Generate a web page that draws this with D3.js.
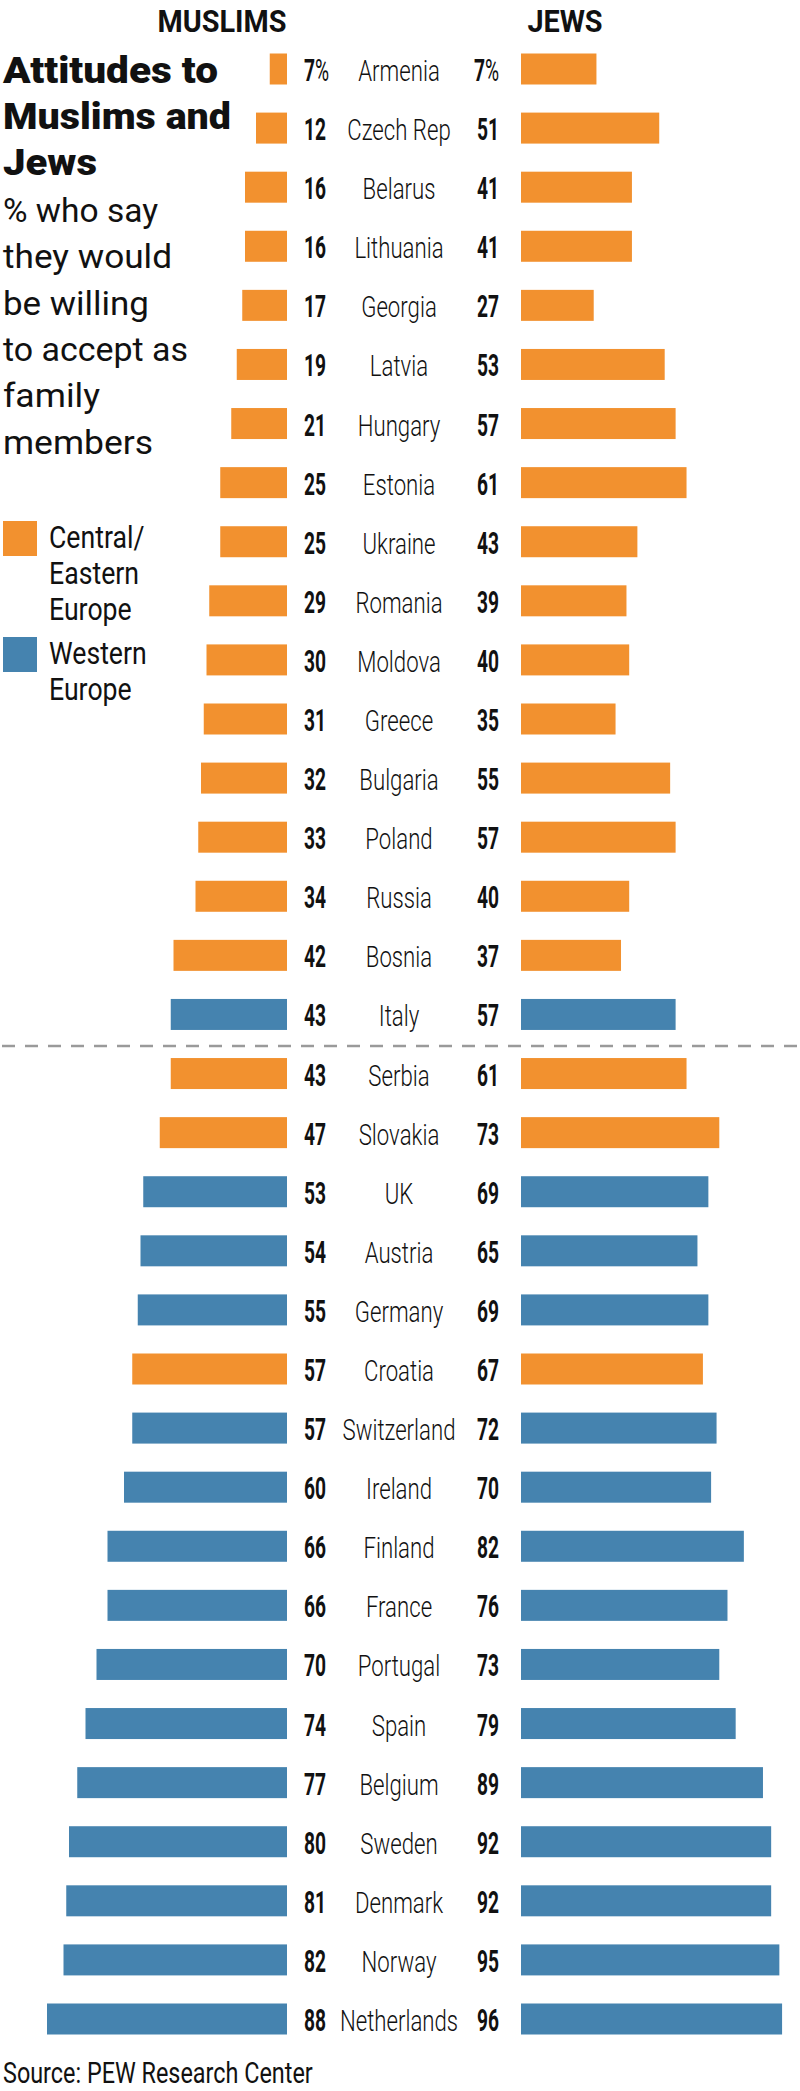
<!DOCTYPE html>
<html>
<head>
<meta charset="utf-8">
<script src="https://cdn.jsdelivr.net/npm/d3@7/dist/d3.min.js"></script>
<style>
  html, body { margin: 0; padding: 0; background: #fff; }
  svg { display: block; }
  text { font-family: Roboto, "Noto Sans", sans-serif; fill: #111; }
</style>
</head>
<body>
<svg id="chart" width="800" height="2091"></svg>
<script>
// ---- data ----
const countries = ["Armenia","Czech Rep","Belarus","Lithuania","Georgia","Latvia","Hungary","Estonia","Ukraine","Romania","Moldova","Greece","Bulgaria","Poland","Russia","Bosnia","Italy","Serbia","Slovakia","UK","Austria","Germany","Croatia","Switzerland","Ireland","Finland","France","Portugal","Spain","Belgium","Sweden","Denmark","Norway","Netherlands"];
const muslims = [7,12,16,16,17,19,21,25,25,29,30,31,32,33,34,42,43,43,47,53,54,55,57,57,60,66,66,70,74,77,80,81,82,88];
const jews = [7,51,41,41,27,53,57,61,43,39,40,35,55,57,40,37,57,61,73,69,65,69,67,72,70,82,76,73,79,89,92,92,95,96];
const region = ["C","C","C","C","C","C","C","C","C","C","C","C","C","C","C","C","W","C","C","W","W","W","C","W","W","W","W","W","W","W","W","W","W","W"];
// the Armenia bar for Jews is drawn longer than its 7% label in the original graphic
const jewsBarAsDrawn = { "Armenia": 28 };
const regionLabels = { C: ["Central/", "Eastern", "Europe"], W: ["Western", "Europe"] };
const titleLines = ["Attitudes to", "Muslims and", "Jews"];
const subtitleLines = ["% who say", "they would", "be willing", "to accept as", "family", "members"];
const headers = ["MUSLIMS", "JEWS"];
const sourceText = "Source: PEW Research Center";
const splitAfter = "Italy";

// ---- setup ----
const svg = d3.select("#chart");
const color = d3.scaleOrdinal().domain(["C","W"]).range(["#F2912F","#4583AF"]);
const rows = countries.map((c, i) => ({
  country: c, m: muslims[i], j: jews[i],
  jBar: jewsBarAsDrawn[c] !== undefined ? jewsBarAsDrawn[c] : jews[i],
  region: region[i], first: i === 0
}));

const y = d3.scalePoint().domain(countries).range([69, 2019]);
const barH = 31;
const xM = d3.scaleLinear().domain([0, 100]).range([289, 14]);
const mEdge = 287;
const xJ = d3.scaleLinear().domain([0, 100]).range([520, 793]);
const jEdge = 521;

function stxt(g, x, yy, sx, str) {
  return g.append("text")
    .attr("transform", `translate(${x},${yy}) scale(${sx},1)`)
    .text(str);
}

// ---- bars ----
svg.append("g").selectAll("rect.m").data(rows).join("rect")
  .attr("x", d => xM(d.m)).attr("width", d => mEdge - xM(d.m))
  .attr("y", d => y(d.country) - barH / 2).attr("height", barH)
  .attr("fill", d => color(d.region));

svg.append("g").selectAll("rect.j").data(rows).join("rect")
  .attr("x", jEdge).attr("width", d => xJ(d.jBar) - jEdge)
  .attr("y", d => y(d.country) - barH / 2).attr("height", barH)
  .attr("fill", d => color(d.region));

// ---- row labels ----
const lab = svg.append("g");
rows.forEach(d => {
  const by = y(d.country) + 12;
  const tm = lab.append("text")
    .attr("transform", `translate(304,${by}) scale(0.6,1)`)
    .attr("font-size", 32).attr("font-weight", 700).attr("text-anchor", "start");
  tm.append("tspan").text(d.m);
  if (d.first) tm.append("tspan").attr("font-weight", 400).text("%");

  const tj = lab.append("text")
    .attr("transform", `translate(499,${by}) scale(0.6,1)`)
    .attr("font-size", 32).attr("font-weight", 700).attr("text-anchor", "end");
  tj.append("tspan").text(d.j);
  if (d.first) tj.append("tspan").attr("font-weight", 400).text("%");

  stxt(lab, 399, by, 0.74, d.country)
    .attr("font-size", 30).attr("font-weight", 300).attr("text-anchor", "middle");
});

// ---- headers ----
const hx = [222, 565];
headers.forEach((h, i) => {
  stxt(svg, hx[i], 32, 0.9, h).attr("font-size", 32).attr("font-weight", 700).attr("text-anchor", "middle");
});

// ---- dashed separator ----
const sepY = (y(splitAfter) + y(countries[countries.indexOf(splitAfter) + 1])) / 2 + 2;
svg.append("line").attr("x1", 2).attr("x2", 800).attr("y1", sepY).attr("y2", sepY)
  .attr("stroke", "#9a9a9a").attr("stroke-width", 2.5).attr("stroke-dasharray", "13,10");

// ---- title ----
const titleW = [215, 228, 94];
titleLines.forEach((t, i) => {
  svg.append("text").attr("x", 3).attr("y", 83 + i * 46)
    .attr("font-size", 37).attr("font-weight", 900)
    .attr("textLength", titleW[i]).attr("lengthAdjust", "spacingAndGlyphs")
    .text(t);
});
const subW = [155, 169, 146, 185, 97, 150];
subtitleLines.forEach((t, i) => {
  svg.append("text").attr("x", 3).attr("y", 222 + i * 46.3)
    .attr("font-size", 34).attr("font-weight", 400).attr("fill", "#222")
    .attr("textLength", subW[i]).attr("lengthAdjust", "spacingAndGlyphs")
    .text(t);
});

// ---- legend ----
const legTop = { C: 521, W: 637 };
["C", "W"].forEach(k => {
  svg.append("rect").attr("x", 3).attr("y", legTop[k]).attr("width", 34).attr("height", 35).attr("fill", color(k));
  regionLabels[k].forEach((t, i) => {
    stxt(svg, 49, legTop[k] + 27 + i * 36, 0.86, t).attr("font-size", 31).attr("font-weight", 400).attr("fill", "#222");
  });
});

// ---- source ----
stxt(svg, 3, 2083, 0.78, sourceText).attr("font-size", 30).attr("font-weight", 400).attr("fill", "#222");
</script>
</body>
</html>
